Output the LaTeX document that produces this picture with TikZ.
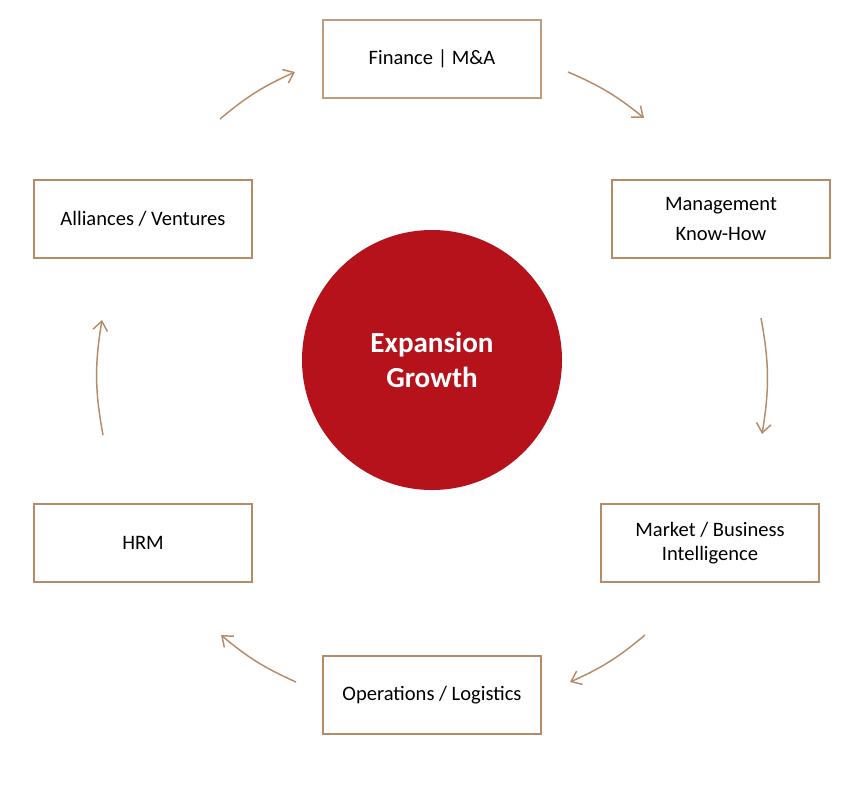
\documentclass[tikz,border=0pt]{standalone}
\usepackage{fontspec}
\setmainfont{Carlito}
\usetikzlibrary{arrows.meta}
\definecolor{tan}{RGB}{181,139,104}
\definecolor{darkred}{RGB}{181,18,28}
\tikzset{
  box/.style={draw=tan,line width=1.4pt,minimum width=163.5pt,minimum height=58.5pt,
    align=center,font=\fontsize{15.4}{22.5}\selectfont},
  cyc/.style={draw=tan,line width=1.1pt,-{Straight Barb[length=7pt,width=11pt]}}
}
\begin{document}
\begin{tikzpicture}[x=0.75pt,y=-0.75pt]
  \useasboundingbox (0,0) rectangle (866,790);
  \node[circle,fill=darkred,minimum size=195pt,text=white,align=center,
    font=\fontsize{21.8}{26.5}\selectfont\bfseries] (core) at (432,360) {Expansion\\Growth};
  \node[box,draw=tan!85,line width=0.9pt] (fin) at (432,59) {Finance | M\&A};
  \node[box] (mgmt) at (721,219) {Management\\Know-How};
  \node[box,font=\fontsize{15.4}{17.5}\selectfont] (mkt) at (710,543) {Market / Business\\Intelligence};
  \node[box] (ops) at (432,695) {Operations / Logistics};
  \node[box] (hrm) at (143,543) {HRM};
  \node[box] (all) at (143,219) {Alliances / Ventures};
  \def \Ends{
    a1/220/119, b1/295/72,
    a2/568/72, b2/644/118,
    a3/761/318, b3/762/434,
    a4/645/635, b4/570/682,
    a5/296/682, b5/221/635,
    a6/103/435, b6/102/320}
  \foreach \id / \x / \y in \Ends{
    \coordinate (\id) at (\x, \y);
  }
  \foreach \i / \b in {1/8,2/8,3/10,4/8,5/8,6/10}{
    \draw[cyc] (a\i) to[bend left=\b] (b\i);
  }
\end{tikzpicture}
\end{document}
